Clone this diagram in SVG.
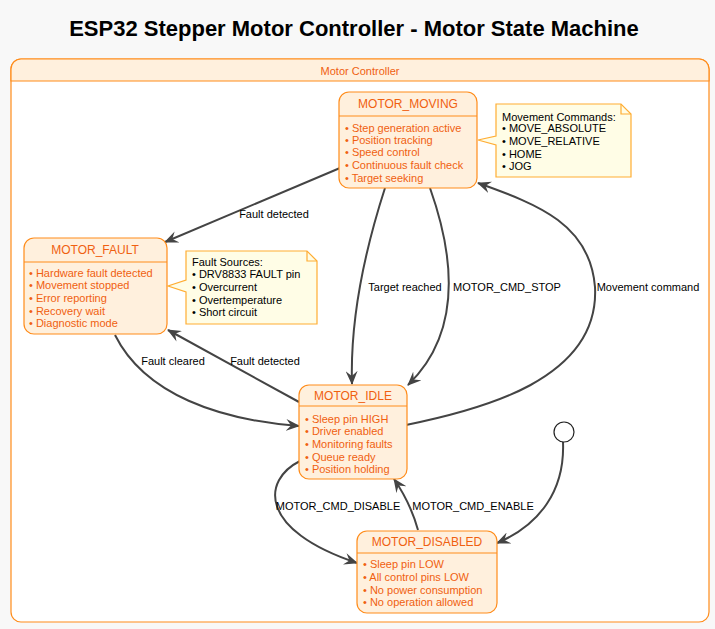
<svg xmlns="http://www.w3.org/2000/svg" width="715" height="629" viewBox="0 0 715 629">
<defs>
<style>
.st{fill:#fff0dd;stroke:#ff8c1a;stroke-width:1.2}
.hl{stroke:#ff8c1a;stroke-width:1.2}
.sn{font-family:"Liberation Sans",Arial,sans-serif;font-size:12px;fill:#f06010;text-anchor:middle}
.it{font-family:"Liberation Sans",Arial,sans-serif;font-size:11px;fill:#f06010}
.nt{fill:#fffde6;stroke:#ffad33;stroke-width:1.2}
.ntx{font-family:"Liberation Sans",Arial,sans-serif;font-size:11px;fill:#000}
.lb{font-family:"Liberation Sans",Arial,sans-serif;font-size:11px;fill:#000;text-anchor:middle}
.ed{fill:none;stroke:#444;stroke-width:2;marker-end:url(#ah)}
</style>
<marker id="ah" viewBox="0 0 14 12" refX="13" refY="6" markerWidth="14" markerHeight="12" markerUnits="userSpaceOnUse" orient="auto">
<path d="M0,0 L14,6 L0,12 L5,6 Z" fill="#444"/>
</marker>
</defs>
<rect x="0" y="0" width="715" height="629" fill="#f8f8f8"/>
<text x="354" y="36" text-anchor="middle" font-family="'Liberation Sans',Arial,sans-serif" font-size="22" font-weight="bold" fill="#000">ESP32 Stepper Motor Controller - Motor State Machine</text>

<g id="container">
<rect x="11" y="59" width="698" height="563" rx="10" fill="#ffffff" stroke="#ff8c1a" stroke-width="1.2"/>
<path d="M11,81 V69 A10,10 0 0 1 21,59 H699 A10,10 0 0 1 709,69 V81 Z" fill="#fff0dd" stroke="#ff8c1a" stroke-width="1.2"/>
<text x="360" y="75" class="sn" style="font-size:11px">Motor Controller</text>
</g>

<g id="connectors">
<path class="ed" d="M340,168 L165,242"/>
<path class="ed" d="M385,188 C365,250 350,320 352,384"/>
<path class="ed" d="M430,188 C452,250 465,330 408,385"/>
<path class="ed" d="M406,425 C480,410 600,380 595,287 C590,225 540,205 478,183"/>
<path class="ed" d="M115,335 C145,395 220,420 299,426"/>
<path class="ed" d="M299,402 L168,330"/>
<path class="ed" d="M300,461 C262,480 258,530 357,563"/>
<path class="ed" d="M418,530 C413,512 405,495 394,479"/>
<path class="ed" d="M563,442 C565,490 540,525 497,543"/>
<text class="lb" x="274" y="218">Fault detected</text>
<text class="lb" x="405" y="291">Target reached</text>
<text class="lb" x="507" y="291">MOTOR_CMD_STOP</text>
<text class="lb" x="648" y="291">Movement command</text>
<text class="lb" x="173" y="365">Fault cleared</text>
<text class="lb" x="265" y="365">Fault detected</text>
<text class="lb" x="338" y="510">MOTOR_CMD_DISABLE</text>
<text class="lb" x="473" y="510">MOTOR_CMD_ENABLE</text>
</g>

<g id="initial">
<circle cx="564" cy="432" r="10" fill="#ffffff" stroke="#222" stroke-width="1.2"/>
</g>

<g id="motor_moving">
<rect class="st" x="339" y="92" width="138" height="96" rx="10"/>
<line class="hl" x1="339" y1="116" x2="477" y2="116"/>
<text class="sn" x="408" y="108">MOTOR_MOVING</text>
<text class="it" x="345" y="132">• Step generation active</text>
<text class="it" x="345" y="144">• Position tracking</text>
<text class="it" x="345" y="156">• Speed control</text>
<text class="it" x="345" y="169">• Continuous fault check</text>
<text class="it" x="345" y="182">• Target seeking</text>
</g>

<g id="note_movement">
<path class="nt" d="M496,104 H621 L631,114 V177 H496 V145 L478,140 L496,136 Z"/>
<path d="M621,104 V114 H631" fill="none" stroke="#ffad33" stroke-width="1.2"/>
<text class="ntx" x="502" y="121">Movement Commands:</text>
<text class="ntx" x="502" y="132">• MOVE_ABSOLUTE</text>
<text class="ntx" x="502" y="145">• MOVE_RELATIVE</text>
<text class="ntx" x="502" y="158">• HOME</text>
<text class="ntx" x="502" y="170">• JOG</text>
</g>

<g id="motor_fault">
<rect class="st" x="24" y="238" width="143" height="96" rx="10"/>
<line class="hl" x1="24" y1="262" x2="167" y2="262"/>
<text class="sn" x="95" y="254">MOTOR_FAULT</text>
<text class="it" x="29" y="277">• Hardware fault detected</text>
<text class="it" x="29" y="289">• Movement stopped</text>
<text class="it" x="29" y="302">• Error reporting</text>
<text class="it" x="29" y="315">• Recovery wait</text>
<text class="it" x="29" y="327">• Diagnostic mode</text>
</g>

<g id="note_fault">
<path class="nt" d="M186,251 H307 L317,261 V324 H186 V292 L168,286 L186,280 Z"/>
<path d="M307,251 V261 H317" fill="none" stroke="#ffad33" stroke-width="1.2"/>
<text class="ntx" x="192" y="266">Fault Sources:</text>
<text class="ntx" x="192" y="278">• DRV8833 FAULT pin</text>
<text class="ntx" x="192" y="291">• Overcurrent</text>
<text class="ntx" x="192" y="304">• Overtemperature</text>
<text class="ntx" x="192" y="316">• Short circuit</text>
</g>

<g id="motor_idle">
<rect class="st" x="299" y="385" width="108" height="94" rx="10"/>
<line class="hl" x1="299" y1="406" x2="407" y2="406"/>
<text class="sn" x="353" y="400">MOTOR_IDLE</text>
<text class="it" x="305" y="423">• Sleep pin HIGH</text>
<text class="it" x="305" y="435">• Driver enabled</text>
<text class="it" x="305" y="448">• Monitoring faults</text>
<text class="it" x="305" y="461">• Queue ready</text>
<text class="it" x="305" y="473">• Position holding</text>
</g>

<g id="motor_disabled">
<rect class="st" x="357" y="531" width="140" height="82" rx="10"/>
<line class="hl" x1="357" y1="553" x2="497" y2="553"/>
<text class="sn" x="427" y="546">MOTOR_DISABLED</text>
<text class="it" x="363" y="568">• Sleep pin LOW</text>
<text class="it" x="363" y="581">• All control pins LOW</text>
<text class="it" x="363" y="594">• No power consumption</text>
<text class="it" x="363" y="606">• No operation allowed</text>
</g>
</svg>
